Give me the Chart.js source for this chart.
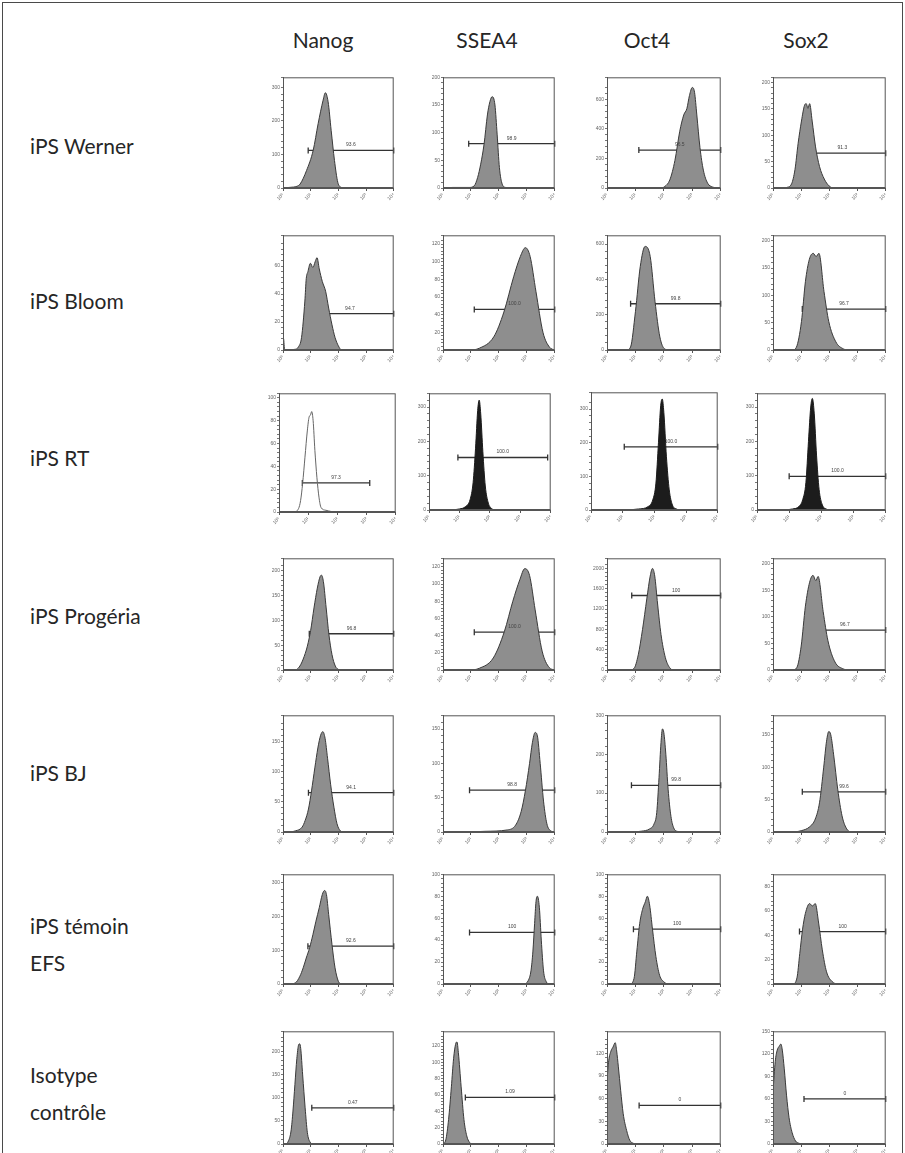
<!DOCTYPE html>
<html>
<head>
<meta charset="utf-8">
<script src="https://cdn.jsdelivr.net/npm/chart.js@4.4.1/dist/chart.umd.min.js"></script>
<style>
    body { margin: 0; background: #fff; }
    #fig { position: relative; width: 905px; height: 1153px; overflow: hidden; font-family: Lato, "Open Sans", sans-serif; color: #262626; }
    #frame { position: absolute; left: 2px; top: 2px; width: 899px; height: 1170px; border: 1.5px solid #4a4a4a; }
    .col { position: absolute; top: 27px; font-size: 21px; line-height: 26px; transform: translateX(-50%); }
    .row { position: absolute; left: 30px; font-size: 21px; line-height: 37px; }
    canvas { position: absolute; }
</style>
</head>
<body>
<div id="fig"><div id="frame"></div></div>
<script>
(function(){
    "use strict";

    // text
    var markers = ["Nanog", "SSEA4", "Oct4", "Sox2"];
    var samples = [["iPS Werner"], ["iPS Bloom"], ["iPS RT"], ["iPS Progéria"], ["iPS BJ"], ["iPS témoin", "EFS"], ["Isotype", "contrôle"]];
    var decadeLabels = ["10⁰", "10¹", "10²", "10³", "10⁴"];

    // histograms, [log decade, count]
    var wernerNanog = [[0,0],[0.26,2],[0.5,5],[0.62,12],[0.85,52],[1.09,112],[1.27,192],[1.45,262],[1.53,284],[1.63,257],[1.74,172],[1.86,82],[1.98,17],[2.1,2],[2.22,0],[4,0]];
    var wernerSSEA4 = [[0,0],[0.35,1],[0.94,1],[1.12,4],[1.24,19],[1.35,43],[1.47,79],[1.59,132],[1.68,156],[1.76,165],[1.86,150],[1.94,96],[2.02,37],[2.12,7],[2.24,1],[2.4,0],[4,0]];
    var wernerOct4 = [[0,0],[1.9,0],[2.04,11],[2.21,55],[2.39,187],[2.56,385],[2.7,495],[2.81,538],[2.9,626],[3.0,681],[3.08,648],[3.16,495],[3.27,275],[3.39,121],[3.54,33],[3.71,7],[3.88,0],[4,0]];
    var wernerSox2 = [[0,0],[0.4,0],[0.49,1],[0.66,8],[0.78,35],[0.89,84],[1.01,127],[1.12,157],[1.18,160],[1.24,151],[1.3,160],[1.39,127],[1.51,78],[1.65,41],[1.82,17],[1.99,4],[2.17,0],[4,0]];

    var bloomNanog = [[0,0],[0.02,8],[0.06,0],[0.44,0.5],[0.55,2],[0.67,9],[0.79,35],[0.84,51],[0.9,56],[0.99,62],[1.08,59],[1.16,63],[1.23,66],[1.31,58],[1.42,49],[1.54,42],[1.65,30],[1.77,18],[1.88,9],[2.0,3],[2.12,0],[4,0]];
    var bloomSSEA4 = [[0,0],[0.95,0],[1.3,2],[1.82,15],[2.18,43],[2.53,83],[2.77,106],[2.95,116],[3.12,106],[3.33,66],[3.58,20],[3.82,3],[4,0]];
    var bloomOct4 = [[0,0],[0.7,0],[0.83,17],[1.0,217],[1.17,473],[1.34,587],[1.52,530],[1.69,274],[1.86,74],[2.03,6],[2.2,0],[4,0]];
    var bloomSox2 = [[0,0],[0.7,0],[0.83,5],[1.01,52],[1.15,125],[1.29,166],[1.43,177],[1.53,171],[1.63,177],[1.81,107],[1.98,52],[2.23,15],[2.5,2],[2.7,0],[4,0]];

    var rtNanog = [[0,0],[0.5,0],[0.67,3],[0.74,10],[0.81,25],[0.89,48],[0.97,71],[1.03,83],[1.08,85],[1.12,88],[1.17,80],[1.23,54],[1.3,30],[1.37,13],[1.44,4],[1.61,1.5],[1.94,0],[4,0]];
    var rtSSEA4 = [[0,0],[0.5,0],[1.0,3],[1.2,10],[1.35,30],[1.45,80],[1.53,180],[1.6,290],[1.65,320],[1.7,280],[1.77,170],[1.85,70],[1.95,20],[2.05,5],[2.2,0],[4,0]];
    var rtOct4 = [[0,0],[1.0,0],[1.5,3],[1.8,10],[1.95,30],[2.05,80],[2.13,200],[2.2,310],[2.25,330],[2.3,290],[2.38,160],[2.47,60],[2.57,15],[2.7,3],[2.85,0],[4,0]];
    var rtSox2 = [[0,0],[0.8,0],[1.1,3],[1.3,10],[1.42,30],[1.52,80],[1.6,200],[1.67,300],[1.72,325],[1.78,280],[1.85,160],[1.93,60],[2.03,15],[2.15,3],[2.3,0],[4,0]];

    var progNanog = [[0,0],[0.4,0],[0.49,1],[0.61,8],[0.73,22],[0.88,48],[1.0,80],[1.12,125],[1.24,165],[1.34,188],[1.39,191],[1.46,178],[1.56,125],[1.66,71],[1.77,31],[1.89,8],[2.01,1],[2.13,0],[4,0]];
    var progSSEA4 = [[0,0],[0.95,0],[1.3,2],[1.8,14],[2.2,45],[2.5,80],[2.75,105],[2.93,118],[3.1,110],[3.3,70],[3.55,22],[3.8,3],[4,0]];
    var progOct4 = [[0,0],[0.8,0],[0.95,30],[1.1,300],[1.25,800],[1.4,1400],[1.52,1850],[1.6,2000],[1.68,1850],[1.78,1300],[1.9,700],[2.05,250],[2.2,50],[2.35,0],[4,0]];
    var progSox2 = [[0,0],[0.7,0],[0.85,5],[1.0,45],[1.15,120],[1.3,165],[1.42,178],[1.52,168],[1.6,176],[1.78,110],[1.95,55],[2.2,15],[2.5,2],[2.7,0],[4,0]];

    var bjNanog = [[0,0],[0.11,0],[0.46,2],[0.69,8],[0.8,19],[0.92,38],[1.03,68],[1.15,106],[1.26,139],[1.36,160],[1.44,166],[1.52,155],[1.61,122],[1.72,79],[1.84,41],[1.95,14],[2.07,2],[2.18,0],[4,0]];
    var bjSSEA4 = [[0,0],[0.8,0],[1.5,1],[2.3,3],[2.6,10],[2.8,30],[2.95,60],[3.1,100],[3.2,130],[3.3,145],[3.38,140],[3.48,100],[3.6,45],[3.72,12],[3.85,2],[4,0]];
    var bjOct4 = [[0,0],[0.8,0],[1.2,2],[1.5,8],[1.65,20],[1.75,50],[1.83,140],[1.9,230],[1.95,265],[2.0,255],[2.07,200],[2.15,110],[2.25,40],[2.35,10],[2.5,1],[2.6,0],[4,0]];
    var bjSox2 = [[0,0],[0.6,0],[1.0,2],[1.3,8],[1.5,20],[1.65,45],[1.8,100],[1.9,140],[1.98,155],[2.05,150],[2.15,120],[2.3,65],[2.45,25],[2.6,6],[2.8,0],[4,0]];

    var efsNanog = [[0,0],[0.21,0],[0.44,3],[0.61,23],[0.73,48],[0.84,77],[0.96,107],[1.08,146],[1.19,186],[1.31,226],[1.42,265],[1.5,277],[1.57,265],[1.65,206],[1.77,117],[1.88,48],[2.0,8],[2.12,0],[4,0]];
    var efsSSEA4 = [[0,0],[2.9,0],[3.05,3],[3.15,12],[3.22,30],[3.28,55],[3.33,75],[3.38,80],[3.45,70],[3.52,40],[3.6,12],[3.7,2],[3.8,0],[4,0]];
    var efsOct4 = [[0,0],[0.8,0],[0.95,5],[1.05,30],[1.15,55],[1.25,68],[1.35,75],[1.42,80],[1.5,72],[1.6,50],[1.72,25],[1.85,8],[2.0,2],[2.15,0],[4,0]];
    var efsSox2 = [[0,0],[0.7,0],[0.85,5],[0.95,25],[1.05,45],[1.15,58],[1.3,66],[1.4,64],[1.5,66],[1.62,50],[1.75,28],[1.9,10],[2.1,2],[2.3,0],[4,0]];

    var isoNanog = [[0,0],[0.08,0],[0.2,7],[0.29,28],[0.36,71],[0.43,128],[0.5,184],[0.56,213],[0.6,216],[0.64,206],[0.71,149],[0.8,78],[0.88,25],[0.98,4],[1.1,0],[4,0]];
    var isoSSEA4 = [[0,0],[0.1,5],[0.2,30],[0.3,70],[0.38,105],[0.45,122],[0.5,125],[0.55,112],[0.65,70],[0.75,30],[0.85,10],[0.95,2],[1.05,0],[4,0]];
    var isoOct4 = [[0,84],[0.06,110],[0.14,123],[0.21,128],[0.29,134],[0.34,123],[0.4,102],[0.48,71],[0.57,40],[0.69,18],[0.8,5],[0.92,1],[1.03,0],[4,0]];
    var isoSox2 = [[0,70],[0.08,110],[0.15,125],[0.22,130],[0.28,133],[0.33,125],[0.4,100],[0.48,65],[0.57,35],[0.68,15],[0.8,4],[0.92,1],[1.05,0],[4,0]];

    // gates [from, to, level] and percentages
    var wernerGate = [[0.91,4,112],[0.92,4,80],[1.12,4,257],[0.93,4,66]];
    var bloomGate = [[0.84,4,26],[1.12,4,46],[0.83,4,262],[1.04,4,75]];
    var rtGate = [[0.8,3.11,25.5],[0.95,3.9,153],[1.05,4,188],[1.0,4,98]];
    var progGate = [[0.95,4,73],[1.12,4,44],[0.87,4,1467],[1.1,4,75]];
    var bjGate = [[0.92,4,65],[0.95,4,61],[0.86,4,120],[1.04,4,62]];
    var efsGate = [[0.9,4,112],[0.95,4,47],[0.93,4,50],[0.94,4,43]];
    var isoGate = [[1.04,4,78],[0.8,4,57],[1.13,4,51],[1.1,4,60]];

    var wernerPct = ["93.6", "98.9", "96.5", "91.3"];
    var bloomPct = ["94.7", "100.0", "99.8", "96.7"];
    var rtPct = ["97.3", "100.0", "100.0", "100.0"];
    var progPct = ["96.8", "100.0", "100", "96.7"];
    var bjPct = ["94.1", "98.8", "99.8", "99.6"];
    var efsPct = ["92.6", "100", "100", "100"];
    var isoPct = ["0.47", "1.09", "0", "0"];

    // count axis tops and label steps
    var wernerYMax = [330, 200, 750, 210], wernerYStep = [100, 50, 200, 50];
    var bloomYMax = [82, 130, 650, 210], bloomYStep = [20, 20, 200, 50];
    var rtYMax = [104, 340, 350, 340], rtYStep = [20, 100, 100, 100];
    var progYMax = [225, 130, 2200, 210], progYStep = [50, 20, 400, 50];
    var bjYMax = [193, 170, 300, 180], bjYStep = [50, 50, 100, 50];
    var efsYMax = [325, 100, 100, 90], efsYStep = [100, 20, 20, 20];
    var isoYMax = [243, 138, 149, 150], isoYStep = [50, 20, 30, 30];

    var rows = [
        { hist: [wernerNanog, wernerSSEA4, wernerOct4, wernerSox2], gate: wernerGate, pct: wernerPct, yMax: wernerYMax, yStep: wernerYStep },
        { hist: [bloomNanog, bloomSSEA4, bloomOct4, bloomSox2], gate: bloomGate, pct: bloomPct, yMax: bloomYMax, yStep: bloomYStep },
        { hist: [rtNanog, rtSSEA4, rtOct4, rtSox2], gate: rtGate, pct: rtPct, yMax: rtYMax, yStep: rtYStep },
        { hist: [progNanog, progSSEA4, progOct4, progSox2], gate: progGate, pct: progPct, yMax: progYMax, yStep: progYStep },
        { hist: [bjNanog, bjSSEA4, bjOct4, bjSox2], gate: bjGate, pct: bjPct, yMax: bjYMax, yStep: bjYStep },
        { hist: [efsNanog, efsSSEA4, efsOct4, efsSox2], gate: efsGate, pct: efsPct, yMax: efsYMax, yStep: efsYStep },
        { hist: [isoNanog, isoSSEA4, isoOct4, isoSox2], gate: isoGate, pct: isoPct, yMax: isoYMax, yStep: isoYStep }
    ];

    // layout of the plot boxes
    var colLeft = [283, 443, 607, 773];
    var colWidth = [113, 114, 116, 115];
    var rowTop = [76, 234, 392, 557, 714, 873, 1030];
    var rowHeight = [112, 116, 119, 113, 118, 111, 114];
    var rtBoxes = [[279, 392, 119, 120], [429, 392, 124, 118], [591, 391, 129, 119], [757, 392, 131, 118]];
    var rowCenter = [145, 300, 457, 615, 772, 944, 1093];
    var colCenter = [323, 487, 647, 806];

    var Y_AXIS_W = 20, X_AXIS_H = 16, PAD_TOP = 4, PAD_RIGHT = 3;

    var fig = document.getElementById("fig");

    for (var c = 0; c < markers.length; c++) {
        var h = document.createElement("div");
        h.className = "col";
        h.style.left = colCenter[c] + "px";
        h.textContent = markers[c];
        fig.appendChild(h);
    }

    for (var r = 0; r < samples.length; r++) {
        var lab = document.createElement("div");
        lab.className = "row";
        lab.style.top = (rowCenter[r] - samples[r].length * 37 / 2) + "px";
        lab.innerHTML = samples[r].join("<br>");
        fig.appendChild(lab);
    }

    // box round the plot area plus the percentage over each gate
    var panelFrame = {
        id: "panelFrame",
        afterDatasetsDraw: function(chart, args, opts) {
            var a = chart.chartArea, ctx = chart.ctx;
            ctx.save();
            ctx.strokeStyle = "#555";
            ctx.lineWidth = 1;
            ctx.strokeRect(a.left + 0.5, a.top + 0.5, a.right - a.left - 1, a.bottom - a.top - 1);
            if (opts && opts.text) {
                var xs = chart.scales.x, ys = chart.scales.y;
                ctx.fillStyle = "#444";
                ctx.font = "5px sans-serif";
                ctx.textAlign = "center";
                ctx.fillText(opts.text, xs.getPixelForValue((opts.from + opts.to) / 2), ys.getPixelForValue(opts.level) - 4);
            }
            ctx.restore();
        }
    };

    var makeAxes = function(yMax, yStep) {
        return {
            x: {
                type: "linear", min: 0, max: 4,
                afterFit: function(s) { s.height = X_AXIS_H; },
                ticks: {
                    stepSize: 1, autoSkip: false, maxRotation: 45, minRotation: 45,
                    font: { size: 5 }, color: "#666", padding: 1,
                    callback: function(v) { return decadeLabels[v]; }
                },
                grid: { drawOnChartArea: false, tickLength: 3, color: "#555" },
                border: { color: "#555" }
            },
            y: {
                min: 0, max: yMax,
                afterFit: function(s) { s.width = Y_AXIS_W; },
                ticks: {
                    stepSize: yStep / 5, autoSkip: false,
                    font: { size: 5 }, color: "#666", padding: 1,
                    callback: function(v) {
                        var k = v / yStep;
                        return Math.abs(k - Math.round(k)) < 1e-6 ? v : "";
                    }
                },
                grid: { drawOnChartArea: false, tickLength: 2, color: "#777" },
                border: { color: "#555" }
            }
        };
    };

    var drawPanel = function(r, c) {
        var row = rows[r];
        var box = r === 2 ? rtBoxes[c] : [colLeft[c], rowTop[r], colWidth[c], rowHeight[r]];
        var canvas = document.createElement("canvas");
        var w = box[2] + Y_AXIS_W + PAD_RIGHT, hh = box[3] + PAD_TOP + X_AXIS_H;
        canvas.width = w;
        canvas.height = hh;
        canvas.style.left = (box[0] - Y_AXIS_W) + "px";
        canvas.style.top = (box[1] - PAD_TOP) + "px";
        canvas.style.width = w + "px";
        canvas.style.height = hh + "px";
        fig.appendChild(canvas);

        var fillColor = "#8e8e8e", lineColor = "#3a3a3a";
        if (r === 2) {
            fillColor = c === 0 ? "rgba(255,255,255,0)" : "#1c1c1c";
            lineColor = c === 0 ? "#666" : "#1c1c1c";
        }

        var g = row.gate[c];
        new Chart(canvas, {
            type: "line",
            data: {
                datasets: [{
                    data: row.hist[c].map(function(p) { return { x: p[0], y: p[1] }; }),
                    fill: "origin",
                    backgroundColor: fillColor,
                    borderColor: lineColor,
                    borderWidth: 1,
                    pointRadius: 0,
                    tension: 0.4,
                    cubicInterpolationMode: "monotone"
                }, {
                    data: [{ x: g[0], y: g[2] }, { x: g[1], y: g[2] }],
                    fill: false,
                    clip: 4,
                    borderColor: "#333",
                    borderWidth: 1.3,
                    pointStyle: "line",
                    rotation: 90,
                    pointRadius: 3,
                    pointBorderWidth: 1.3,
                    pointBorderColor: "#333"
                }]
            },
            options: {
                responsive: false,
                animation: false,
                devicePixelRatio: 1,
                layout: { padding: { top: PAD_TOP, right: PAD_RIGHT, left: 0, bottom: 0 } },
                scales: makeAxes(row.yMax[c], row.yStep[c]),
                plugins: {
                    legend: { display: false },
                    tooltip: { enabled: false },
                    panelFrame: { text: row.pct[c], from: g[0], to: g[1], level: g[2] }
                }
            },
            plugins: [panelFrame]
        });
    };

    for (var i = 0; i < rows.length; i++) {
        for (var j = 0; j < 4; j++) {
            drawPanel(i, j);
        }
    }
})();
</script>
</body>
</html>
